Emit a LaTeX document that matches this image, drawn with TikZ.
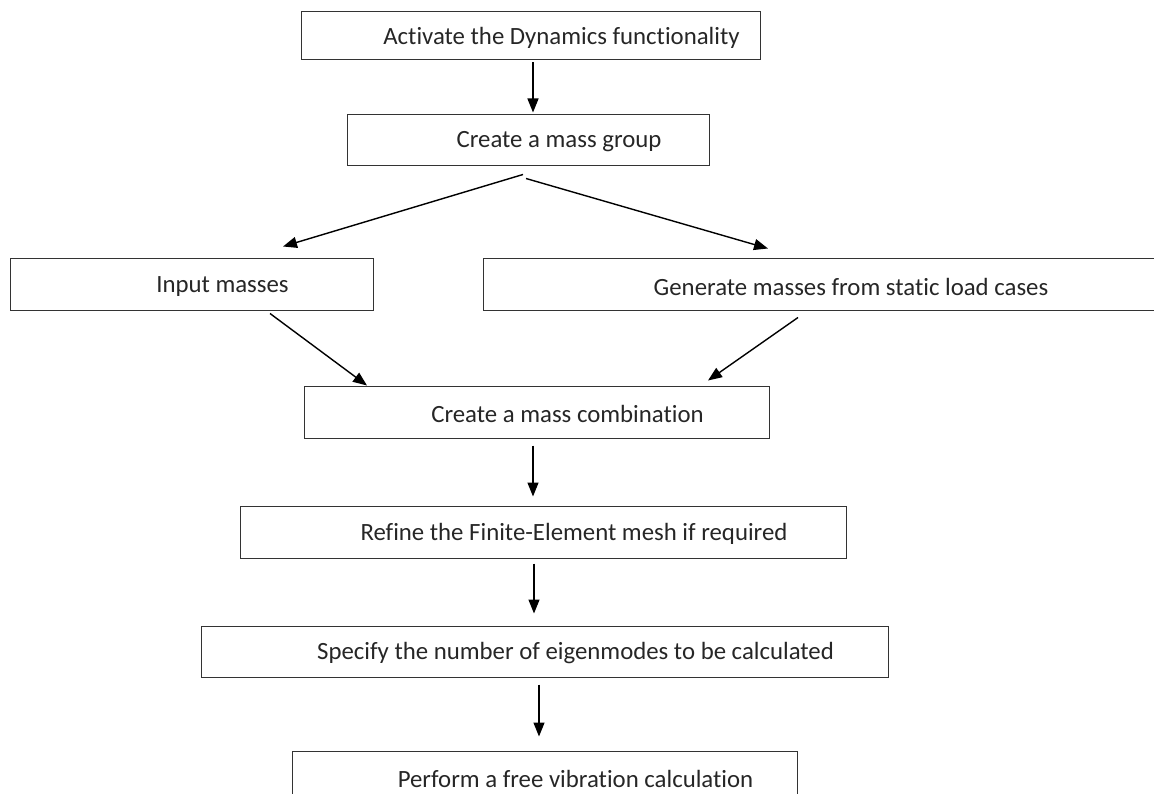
\documentclass[tikz,border=0pt]{standalone}
\usepackage{fontspec}
\setmainfont{Carlito}[Ligatures={NoCommon}]
\usetikzlibrary{arrows.meta}

\tikzset{
	stepbox/.style={rectangle, draw=black!80, line width=1pt, inner sep=0pt},
	steptext/.style={text=black!85, font=\fontsize{24.8}{29}\selectfont, xshift=31pt, yshift=-1.5pt},
	flow/.style={draw, line width=1.4pt, -{Triangle[length=14pt,width=11pt]}},
}

\begin{document}
\begin{tikzpicture}[x=1pt, y=-1pt]
		\useasboundingbox (0,0) rectangle (1154,794);
		\node (act) [stepbox, minimum width=459pt, minimum height=48pt, label={[steptext]center:Activate the Dynamics functionality}] at (530.5,36) {};
		\node (grp) [stepbox, minimum width=362pt, minimum height=51pt, label={[steptext]center:Create a mass group}] at (528,140.5) {};
		\node (inp) [stepbox, minimum width=363pt, minimum height=52pt, label={[steptext]center:Input masses}] at (191.5,285) {};
		\node (gen) [stepbox, minimum width=677pt, minimum height=52pt, label={[steptext, xshift=-1.5pt]center:Generate masses from static load cases}] at (821.5,285) {};
		\node (comb) [stepbox, minimum width=465pt, minimum height=52pt, label={[steptext]center:Create a mass combination}] at (536.5,412) {};
		\node (ref) [stepbox, minimum width=606pt, minimum height=52pt, label={[steptext]center:Refine the Finite-Element mesh if required}] at (543,532) {};
		\node (spec) [stepbox, minimum width=687pt, minimum height=51pt, label={[steptext]center:Specify the number of eigenmodes to be calculated}] at (544.5,651.5) {};
		\node (perf) [stepbox, minimum width=505pt, minimum height=52pt, label={[steptext]center:Perform a free vibration calculation}] at (544.5,777) {};

		\path[flow] ([xshift=2.5pt, yshift=-2pt]act.south) -- ([xshift=5pt, yshift=2pt]grp.north);
		\path[flow] ([xshift=-5pt, yshift=-8pt]grp.south) -- ([xshift=91.5pt, yshift=12pt]inp.north);
		\path[flow] ([xshift=-2pt, yshift=-12pt]grp.south) -- ([xshift=-53.5pt, yshift=10pt]gen.north);
		\path[flow] ([xshift=78.5pt, yshift=-2pt]inp.south) -- ([xshift=-169.5pt, yshift=0pt]comb.north);
		\path[flow] ([xshift=-23.5pt, yshift=-6pt]gen.south) -- ([xshift=171.5pt, yshift=5pt]comb.north);
		\path[flow] ([xshift=-3.5pt, yshift=-7pt]comb.south) -- ([xshift=-10pt, yshift=9pt]ref.north);
		\path[flow] ([xshift=-9pt, yshift=-5pt]ref.south) -- ([xshift=-10.5pt, yshift=12pt]spec.north);
		\path[flow] ([xshift=-5.5pt, yshift=-7pt]spec.south) -- ([xshift=-5.5pt, yshift=14pt]perf.north);
	\end{tikzpicture}
\end{document}
